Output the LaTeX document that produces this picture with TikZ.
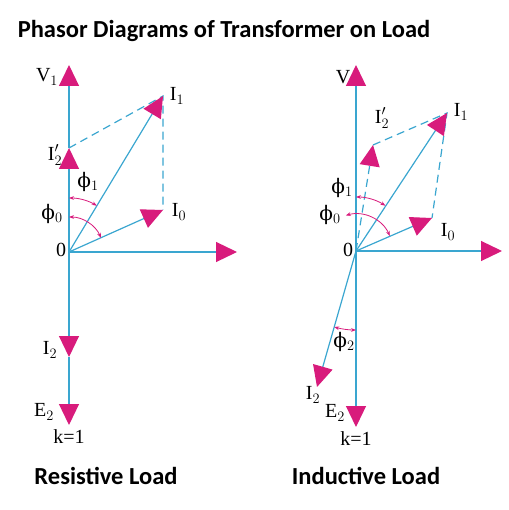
\documentclass[tikz,border=0pt]{standalone}
\usepackage{amsmath}
\usepackage{fontspec}
\setmainfont{Liberation Serif}
\newfontfamily\headfont{Carlito}
\newfontfamily\greekfont{DejaVu Serif}
\usetikzlibrary{arrows.meta,positioning}
\definecolor{phmag}{HTML}{D81B7C}
\definecolor{phblue}{HTML}{3AA6D0}
\newcommand{\phiang}[1]{{\greekfont ϕ}$_{#1}$}
\tikzset{
  phasor/.style={draw=phblue, line width=1.2pt, -{Triangle[length=21pt,width=20pt,color=phmag]}},
  dashline/.style={draw=phblue, line width=1.2pt, dash pattern=on 8pt off 5pt},
  anglemark/.style={draw=phmag, line width=0.8pt, {Stealth[length=5pt]}-{Stealth[length=5pt]}},
  lbl/.style={font=\fontsize{20}{22}\selectfont, inner sep=0pt},
  heading/.style={font=\headfont\bfseries\fontsize{24.5}{26}\selectfont, inner sep=0pt}
}
\begin{document}
\begin{tikzpicture}[x=1pt, y=1pt]
  \useasboundingbox (0,0) rectangle (508,-510);
  \node[heading] (title) at (224,-31) {Phasor Diagrams of Transformer on Load};
  % resistive load
  \coordinate (o) at (69,-252);
  \coordinate (v1) at (69,-65);
  \coordinate (i2p) at (69,-148);
  \coordinate (i1) at (163,-96);
  \coordinate (i0) at (163,-210);
  \coordinate (x) at (237,-252);
  \coordinate (i2) at (69,-357);
  \coordinate (e2) at (69,-425);
  \draw[dashline] (i2p) -- (i1) -- (i0);
  \draw[phasor] (o) -- (x);
  \draw[phasor] (o) -- (i2p);
  \draw[phasor] (i2p) -- (v1);
  \draw[phasor] (o) -- (i1);
  \draw[phasor] (o) -- (i0);
  \draw[phasor] (o) -- (i2);
  \draw[phasor] (i2) -- (e2);
  \draw[anglemark] ([shift={(90:54)}]o) arc (90:59:54);
  \draw[anglemark] ([shift={(90:35)}]o) arc (90:24:35);
  \node[lbl] (v1lbl) at (47,-77) {$\mathrm{V}_1$};
  \node[lbl] (i1lbl) at (177,-96) {$\mathrm{I}_1$};
  \node[lbl] (i2plbl) at (55,-155) {$\mathrm{I}_2'$};
  \node[lbl] (i0lbl) at (179,-212) {$\mathrm{I}_0$};
  \node[lbl] (olbl) at (61,-250) {0};
  \node[lbl] (phi1lbl) at (88,-182) {\phiang{1}};
  \node[lbl] (phi0lbl) at (52,-214) {\phiang{0}};
  \node[lbl] (i2lbl) at (50,-350) {$\mathrm{I}_2$};
  \node[lbl] (e2lbl) at (44,-412) {$\mathrm{E}_2$};
  \node[lbl, below=4pt of e2] (klbl) {k=1};
  \node[heading] (res) at (106,-476) {Resistive Load};
  % inductive load
  \coordinate (O) at (356,-251);
  \coordinate (V) at (356,-65);
  \coordinate (X) at (502,-251);
  \coordinate (I1) at (447,-113);
  \coordinate (I0) at (432,-218);
  \coordinate (I2p) at (373,-145);
  \coordinate (I2) at (317,-387);
  \coordinate (E2) at (356,-427);
  \draw[dashline] (I2p) -- (I1) -- (I0);
  \draw[phasor] (O) -- (V);
  \draw[phasor] (O) -- (X);
  \draw[phasor] (O) -- (E2);
  \draw[phasor] (O) -- (I1);
  \draw[phasor] (O) -- (I0);
  \draw[phasor] (O) -- (I2);
  \draw[phasor, dash pattern=on 8pt off 5pt] (O) -- (I2p);
  \draw[anglemark] ([shift={(90:54)}]O) arc (90:57:54);
  \draw[anglemark] ([shift={(106:37)}]O) arc (106:24:37);
  \draw[anglemark] ([shift={(254:79)}]O) arc (254:270:79);
  \node[lbl] (Vlbl) at (343,-77) {V};
  \node[lbl] (I1lbl) at (461,-112) {$\mathrm{I}_1$};
  \node[lbl] (I2plbl) at (382,-118) {$\mathrm{I}_2'$};
  \node[lbl] (I0lbl) at (448,-232) {$\mathrm{I}_0$};
  \node[lbl] (Olbl) at (348,-250) {0};
  \node[lbl] (Phi1lbl) at (342,-188) {\phiang{1}};
  \node[lbl] (Phi0lbl) at (330,-215) {\phiang{0}};
  \node[lbl] (Phi2lbl) at (344,-342) {\phiang{2}};
  \node[lbl] (I2lbl) at (313,-395) {$\mathrm{I}_2$};
  \node[lbl] (E2lbl) at (335,-413) {$\mathrm{E}_2$};
  \node[lbl, below=4pt of E2] (Klbl) {k=1};
  \node[heading] (ind) at (366,-476) {Inductive Load};
\end{tikzpicture}
\end{document}
